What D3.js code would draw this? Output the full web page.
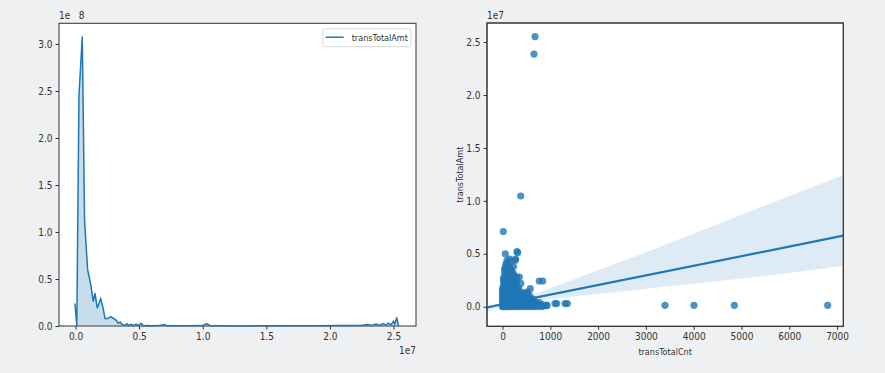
<!DOCTYPE html>
<html>
<head>
<meta charset="utf-8">
<script src="https://cdn.jsdelivr.net/npm/d3@7"></script>
<style>
  body { margin: 0; background: #eff0f2; }
  svg { display: block; }
  text { font-family: "Liberation Sans Narrow", "DejaVu Sans Condensed", "DejaVu Sans", sans-serif; font-stretch: condensed; fill: #333; }
</style>
</head>
<body>
<svg width="885" height="373"></svg>
<script>
// KDE of transTotalAmt (x in 1e7, density in 1e-8)
const kdeX = [-0.005, 0.010, 0.027, 0.053, 0.071, 0.095, 0.118, 0.140, 0.153, 0.171, 0.198, 0.215, 0.232, 0.255, 0.275,
  0.300, 0.320, 0.335, 0.352, 0.370, 0.390, 0.405, 0.420, 0.440, 0.455, 0.475, 0.495, 0.515, 0.535, 0.560,
  0.600, 0.650, 0.700, 0.720, 0.800, 0.900, 1.000, 1.030, 1.060, 1.150, 1.300, 1.500, 1.700, 1.900, 2.050,
  2.150, 2.250, 2.300, 2.330, 2.360, 2.390, 2.420, 2.440, 2.460, 2.480, 2.500, 2.510, 2.525, 2.540];
const kdeY = [0.24, 0.0, 2.45, 3.08, 1.12, 0.60, 0.45, 0.26, 0.35, 0.19, 0.29, 0.20, 0.08, 0.08, 0.10,
  0.08, 0.06, 0.03, 0.04, 0.01, 0.01, 0.025, 0.005, 0.018, 0.004, 0.02, 0.005, 0.03, 0.003, 0.006,
  0.002, 0.004, 0.015, 0.002, 0.003, 0.002, 0.004, 0.025, 0.003, 0.002, 0.001, 0.002, 0.002, 0.003, 0.004,
  0.006, 0.008, 0.015, 0.005, 0.02, 0.008, 0.025, 0.01, 0.03, 0.012, 0.05, 0.02, 0.09, 0.0];

const kdeXTicks = [0, 0.5, 1.0, 1.5, 2.0, 2.5];
const kdeYTicks = [0, 0.5, 1.0, 1.5, 2.0, 2.5, 3.0];

// scatter: [transTotalCnt, transTotalAmt in 1e7]
const scatterPoints = [
  [0, 0], [0, 0.03], [0, 0.06], [0, 0.09], [0, 0.12], [0, 0.15], [0, 0.17],
  [20, 0], [20, 0.04], [20, 0.08], [20, 0.12], [20, 0.16], [20, 0.2], [20, 0.24], [20, 0.27],
  [45, 0.01], [45, 0.05], [45, 0.09], [45, 0.13], [45, 0.17], [45, 0.21], [45, 0.25], [45, 0.29], [45, 0.33], [45, 0.36],
  [70, 0], [70, 0.04], [70, 0.08], [70, 0.12], [70, 0.16], [70, 0.2], [70, 0.24], [70, 0.28], [70, 0.32], [70, 0.36], [70, 0.4],
  [95, 0.02], [95, 0.06], [95, 0.1], [95, 0.14], [95, 0.18], [95, 0.22], [95, 0.26], [95, 0.3], [95, 0.34], [95, 0.38], [95, 0.41],
  [120, 0], [120, 0.04], [120, 0.08], [120, 0.12], [120, 0.16], [120, 0.2], [120, 0.24], [120, 0.28], [120, 0.32], [120, 0.36], [120, 0.39],
  [145, 0.01], [145, 0.05], [145, 0.09], [145, 0.13], [145, 0.17], [145, 0.21], [145, 0.25], [145, 0.29], [145, 0.33], [145, 0.37],
  [170, 0], [170, 0.04], [170, 0.08], [170, 0.12], [170, 0.16], [170, 0.2], [170, 0.24], [170, 0.28], [170, 0.32], [170, 0.35],
  [200, 0.02], [200, 0.06], [200, 0.1], [200, 0.14], [200, 0.18], [200, 0.22], [200, 0.26], [200, 0.3], [200, 0.33],
  [230, 0], [230, 0.04], [230, 0.08], [230, 0.12], [230, 0.16], [230, 0.2], [230, 0.24], [230, 0.27], [230, 0.31],
  [260, 0.01], [260, 0.05], [260, 0.09], [260, 0.13], [260, 0.17], [260, 0.21], [260, 0.25], [260, 0.28],
  [290, 0], [290, 0.04], [290, 0.08], [290, 0.12], [290, 0.16], [290, 0.2], [290, 0.23],
  [320, 0.02], [320, 0.06], [320, 0.1], [320, 0.14], [320, 0.18],
  [350, 0], [350, 0.04], [350, 0.08], [350, 0.12], [350, 0.16],
  [385, 0.01], [385, 0.05], [385, 0.09], [385, 0.13],
  [420, 0], [420, 0.04], [420, 0.08], [420, 0.12],
  [455, 0.02], [455, 0.06], [455, 0.1], [455, 0.13],
  [490, 0], [490, 0.04], [490, 0.08], [490, 0.12],
  [525, 0.01], [525, 0.05], [525, 0.09], [525, 0.14],
  [560, 0], [560, 0.04], [560, 0.08], [560, 0.11],
  [600, 0.01], [600, 0.05], [600, 0.08],
  [640, 0], [640, 0.04], [640, 0.07],
  [680, 0.01], [680, 0.05], [720, 0], [720, 0.03], [770, 0.01], [770, 0.04],
  [820, 0], [820, 0.02], [880, 0.01], [930, 0.01],
  [582, 0.17], [230, 0.38], [150, 0.45], [300, 0.28],
  [17, 0.71], [59, 0.50], [94, 0.435], [192, 0.43], [276, 0.45], [268, 0.44], [303, 0.52], [318, 0.51],
  [352, 0.28], [381, 0.22], [381, 1.046], [659, 2.386], [680, 2.552], [770, 0.243], [841, 0.243],
  [925, 0.016], [1098, 0.03], [1134, 0.03], [1308, 0.03], [1356, 0.03],
  [3400, 0.013], [4006, 0.013], [4850, 0.013], [6803, 0.013]
];

// regression fit (amt in 1e7) and confidence band read at a few counts
const regIntercept = 0.0234;
const regSlope = 0.0000908;
const ciCnt = [-324, 0, 200, 500, 1000, 2000, 3086, 4000, 5000, 6000, 7130];
const ciLow = [-0.049, 0.011, 0.032, 0.049, 0.074, 0.120, 0.174, 0.216, 0.267, 0.318, 0.385];
const ciHigh = [-0.009, 0.035, 0.052, 0.089, 0.174, 0.345, 0.529, 0.691, 0.868, 1.045, 1.245];

const scatterXTicks = [0, 1000, 2000, 3000, 4000, 5000, 6000, 7000];
const scatterYTicks = [0, 0.5, 1.0, 1.5, 2.0, 2.5];

const blue = "#1f77b4";
const svg = d3.select("svg");

function drawFrame(g, x, y, xTicks, yTicks, fmtX, fmtY, w, h) {
  g.append("rect").attr("width", w).attr("height", h).attr("fill", "#fff");
  g.append("g")
    .attr("transform", "translate(0," + h + ")")
    .call(d3.axisBottom(x).tickValues(xTicks).tickFormat(fmtX).tickSize(3.5).tickPadding(3));
  g.append("g")
    .call(d3.axisLeft(y).tickValues(yTicks).tickFormat(fmtY).tickSize(3.5).tickPadding(3));
  g.selectAll(".domain").remove();
  g.selectAll(".tick line").attr("stroke", "#333");
  g.selectAll(".tick text").attr("font-size", 10).attr("fill", "#333");
  g.append("rect").attr("width", w).attr("height", h)
    .attr("fill", "none").attr("stroke", "#333").attr("stroke-width", 1);
}

// ---- left: KDE ----
const m1 = {left: 59, top: 23.3, right: 416, bottom: 326};
const w1 = m1.right - m1.left, h1 = m1.bottom - m1.top;
const x1 = d3.scaleLinear().domain([-0.13, 2.677]).range([0, w1]);
const y1 = d3.scaleLinear().domain([0, 3.22]).range([h1, 0]);
const g1 = svg.append("g").attr("transform", "translate(" + m1.left + "," + m1.top + ")");
drawFrame(g1, x1, y1, kdeXTicks, kdeYTicks, d3.format(".1f"), d3.format(".1f"), w1, h1);

const kde = kdeX.map((v, i) => [v, kdeY[i]]);
g1.append("path")
  .datum(kde.slice(1))
  .attr("fill", blue).attr("fill-opacity", 0.25)
  .attr("d", d3.area().x(d => x1(d[0])).y0(y1(0)).y1(d => y1(d[1])));
g1.append("path")
  .datum(kde)
  .attr("fill", "none").attr("stroke", blue).attr("stroke-width", 1.5)
  .attr("d", d3.line().x(d => x1(d[0])).y(d => y1(d[1])));

// legend
const lg = g1.append("g").attr("transform", "translate(" + (322.7 - m1.left) + "," + (28.7 - m1.top) + ")");
lg.append("rect").attr("width", 88.3).attr("height", 18).attr("rx", 2)
  .attr("fill", "#fff").attr("stroke", "#d9d9d9");
lg.append("line").attr("x1", 3).attr("x2", 21).attr("y1", 8.5).attr("y2", 8.5)
  .attr("stroke", blue).attr("stroke-width", 1.5);
lg.append("text").attr("x", 29).attr("y", 12).attr("font-size", 9).text("transTotalAmt");

svg.append("text").attr("x", 59).attr("y", 19).attr("font-size", 10)
  .style("white-space", "pre").text("1e   8");
svg.append("text").attr("x", 416).attr("y", 354).attr("font-size", 10)
  .attr("text-anchor", "end").text("1e7");

// ---- right: regplot ----
const m2 = {left: 487, top: 23, right: 843.3, bottom: 326.3};
const w2 = m2.right - m2.left, h2 = m2.bottom - m2.top;
const x2 = d3.scaleLinear().domain([-324, 7130]).range([0, w2]);
const y2 = d3.scaleLinear().domain([-0.185, 2.68]).range([h2, 0]);
const g2 = svg.append("g").attr("transform", "translate(" + m2.left + "," + m2.top + ")");
drawFrame(g2, x2, y2, scatterXTicks, scatterYTicks, d3.format("d"), d3.format(".1f"), w2, h2);

g2.append("clipPath").attr("id", "clip2")
  .append("rect").attr("width", w2).attr("height", h2);
const plot2 = g2.append("g").attr("clip-path", "url(#clip2)");

plot2.selectAll(".dot")
  .data(scatterPoints)
  .enter().append("circle")
    .attr("class", "dot")
    .attr("cx", d => x2(d[0]))
    .attr("cy", d => y2(d[1]))
    .attr("r", 3.6)
    .attr("fill", blue)
    .attr("fill-opacity", 0.8);

const band = ciCnt.map((c, i) => [c, ciLow[i], ciHigh[i]]);
plot2.append("path")
  .datum(band)
  .attr("fill", blue).attr("fill-opacity", 0.15)
  .attr("d", d3.area().x(d => x2(d[0])).y0(d => y2(d[1])).y1(d => y2(d[2])));

const fitX = x2.domain();
plot2.append("line")
  .attr("x1", x2(fitX[0])).attr("y1", y2(regIntercept + regSlope * fitX[0]))
  .attr("x2", x2(fitX[1])).attr("y2", y2(regIntercept + regSlope * fitX[1]))
  .attr("stroke", blue).attr("stroke-width", 2.2);

g2.append("rect").attr("width", w2).attr("height", h2)
  .attr("fill", "none").attr("stroke", "#333");

svg.append("text").attr("x", 487).attr("y", 19).attr("font-size", 10).text("1e7");
svg.append("text").attr("x", (m2.left + m2.right) / 2).attr("y", 355).attr("font-size", 9)
  .attr("text-anchor", "middle").text("transTotalCnt");
svg.append("text")
  .attr("transform", "translate(463," + (m2.top + m2.bottom) / 2 + ") rotate(-90)")
  .attr("font-size", 9).attr("text-anchor", "middle").text("transTotalAmt");
</script>
</body>
</html>
